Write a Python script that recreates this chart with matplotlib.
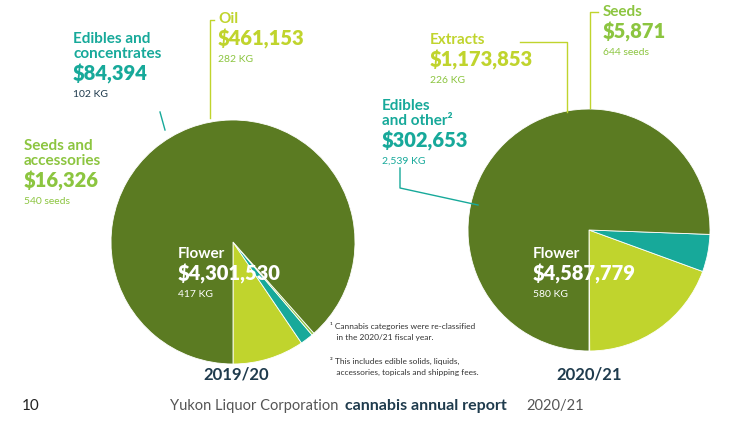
import matplotlib.pyplot as plt

plt.rcParams['font.family'] = ['Lato', 'DejaVu Sans']

# 2019/20
left_labels = ["Oil", "Edibles and concentrates", "Seeds and accessories", "Flower"]
left_values = [461153, 84394, 16326, 4301530]
# 2020/21
right_labels = ["Seeds", "Extracts", "Edibles and other", "Flower"]
right_values = [5871, 1173853, 302653, 4587779]

FLOWER = "#5b7b22"
LIME = "#c0d42d"
TEAL = "#17a99a"
SEED = "#8cc540"
DARK = "#1f3b4d"
left_colors = [LIME, TEAL, SEED, FLOWER]
right_colors = [LIME, LIME, TEAL, FLOWER]

fig = plt.figure(figsize=(7.46, 4.30), dpi=100)
ax = fig.add_axes([0, 0, 1, 1])

# y axis inverted later -> counterclock=False appears counter-clockwise
ax.pie(left_values, colors=left_colors, center=(233, 242), radius=122,
       startangle=90, counterclock=False,
       wedgeprops=dict(edgecolor="white", linewidth=0.6))
ax.pie(right_values, colors=right_colors, center=(589, 230), radius=121,
       startangle=90, counterclock=False,
       wedgeprops=dict(edgecolor="white", linewidth=0.6))
ax.set_xlim(0, 746)
ax.set_ylim(430, 0)
ax.set_aspect("equal")
ax.axis("off")


def label(x, y, lines, color, big, small, lcolor=None):
    ax.text(x, y, lines, color=color, fontsize=11, fontweight="bold", va="top",
            linespacing=1.05)
    n = lines.count("\n") + 1
    ax.text(x, y + 15 * n + 2, big, color=color, fontsize=14.5, fontweight="heavy", va="top")
    ax.text(x, y + 15 * n + 28, small, color=lcolor or color, fontsize=7.5, va="top")


label(218, 12, "Oil", LIME, "$461,153", "282 KG", SEED)
label(73, 32, "Edibles and\nconcentrates", TEAL, "$84,394", "102 KG", DARK)
label(24, 139, "Seeds and\naccessories", SEED, "$16,326", "540 seeds", SEED)
label(178, 247, "Flower", "white", "$4,301,530", "417 KG")

label(603, 5, "Seeds", SEED, "$5,871", "644 seeds", SEED)
label(430, 33, "Extracts", LIME, "$1,173,853", "226 KG", SEED)
label(382, 99, "Edibles\nand other\u00b2", TEAL, "$302,653", "2,539 KG", TEAL)
label(533, 247, "Flower", "white", "$4,587,779", "580 KG")

# leader lines
ax.plot([210, 210, 214], [118, 20, 20], color=LIME, lw=1)
ax.plot([160, 165], [112, 130], color=TEAL, lw=1)
ax.plot([590, 590, 598], [108, 12, 12], color=LIME, lw=1)
ax.plot([520, 567, 567], [42, 42, 112], color=LIME, lw=1)
ax.plot([400, 400, 478], [168, 188, 205], color=TEAL, lw=1)

ax.text(330, 322, "\u00b9 Cannabis categories were re-classified\n   in the 2020/21 fiscal year.",
        fontsize=6, color="#333333", va="top", linespacing=1.6)
ax.text(330, 357, "\u00b2 This includes edible solids, liquids,\n   accessories, topicals and shipping fees.",
        fontsize=6, color="#333333", va="top", linespacing=1.6)

ax.text(236, 375, "2019/20", fontsize=12, fontweight="bold", color=DARK, ha="center", va="center")
ax.text(589, 375, "2020/21", fontsize=12, fontweight="bold", color=DARK, ha="center", va="center")

ax.text(22, 406, "10", fontsize=11, color="#222222", va="center")
ax.text(170, 406, "Yukon Liquor Corporation", fontsize=10.5, color="#555555", va="center")
ax.text(345, 406, "cannabis annual report", fontsize=11.5, fontweight="bold", color=DARK, va="center")
ax.text(526, 406, "2020/21", fontsize=10.5, color="#555555", va="center")

fig.savefig("out.png", dpi=100)
